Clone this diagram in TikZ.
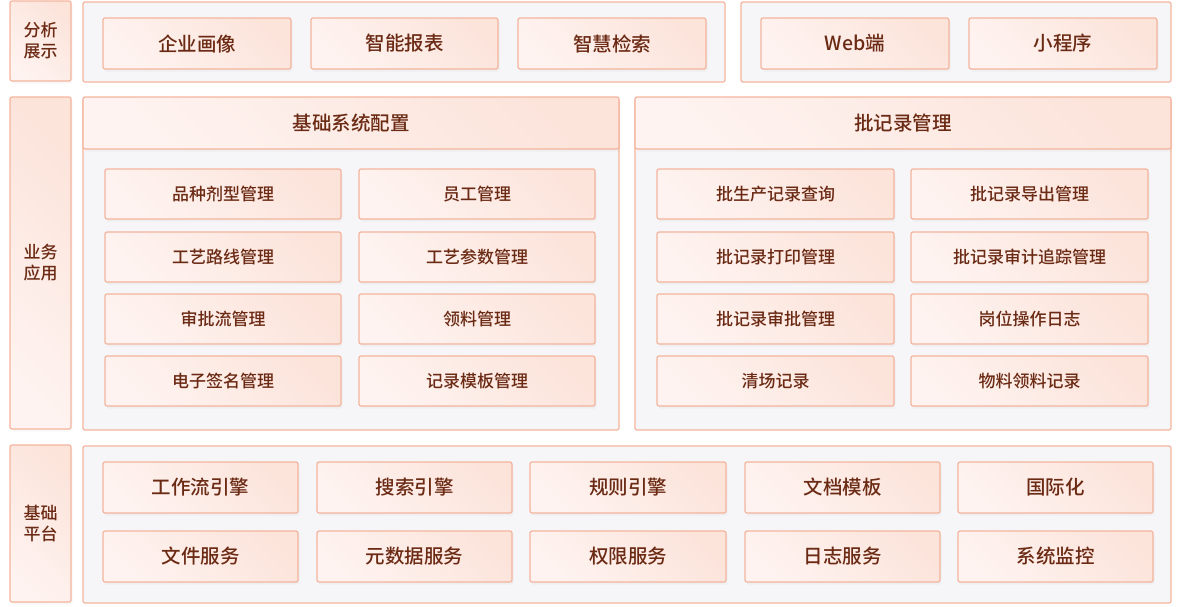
\documentclass[tikz,border=0pt]{standalone}
\usepackage{fontspec}
\setmainfont{Noto Sans CJK SC}[UprightFont={* Medium}]
\usetikzlibrary{shadows}
\definecolor{bord}{HTML}{F4B49C}
\definecolor{txt}{HTML}{6B2A14}
\definecolor{panel}{HTML}{F6F6F9}
\definecolor{fillA}{HTML}{FEF3F0}
\definecolor{fillB}{HTML}{FCE4DB}
\tikzset{
  box/.style={draw=bord, line width=1.2pt, rounded corners=2pt, inner sep=0pt,
    left color=fillA, right color=fillB, shading angle=135,
    drop shadow={opacity=0.06, shadow xshift=1.5pt, shadow yshift=-2.5pt},
    text=txt, align=center},
  tag/.style={box, font=\fontsize{17}{21}\selectfont},
  big/.style={box, font=\fontsize{19.5}{23}\selectfont},
  sml/.style={box, font=\fontsize{17}{20}\selectfont},
  cont/.style={draw=bord, line width=1.2pt, rounded corners=2pt, fill=panel},
  hdr/.style={box, font=\fontsize{19.5}{23}\selectfont, drop shadow={opacity=0}},
}
\newcommand{\bx}[6]{\node[#1, minimum width=#4-#2, minimum height=#5-#3] (#6) at ({(#2+#4)/2},{(#3+#5)/2-1})}
\begin{document}
\begin{tikzpicture}[x=1pt,y=-1pt]
\useasboundingbox (0,0) rectangle (1184,606);
% side labels
\bx{tag}{10}{2}{71}{82}{la} {分析\\展示};
\bx{tag}{10}{98}{71}{430}{lb} {业务\\应用};
\bx{tag}{10}{446}{71}{603}{lc} {基础\\平台};
% containers
\draw[cont] (83,2) rectangle (725,82);
\draw[cont] (741,2) rectangle (1171,82);
\draw[cont] (83,98) rectangle (619,430);
\draw[cont] (635,98) rectangle (1171,430);
\draw[cont] (83,446) rectangle (1171,603);
% headers
\bx{hdr}{83}{98}{619}{150}{ha} {基础系统配置};
\bx{hdr}{635}{98}{1171}{150}{hb} {批记录管理};
% analysis row
\bx{big}{103}{19}{291}{70}{a1} {企业画像};
\bx{big}{311}{19}{498}{70}{a2} {智能报表};
\bx{big}{518}{19}{706}{70}{a3} {智慧检索};
\bx{big}{761}{19}{949}{70}{a4} {Web端};
\bx{big}{969}{19}{1157}{70}{a5} {小程序};
% left panel
\bx{sml}{105}{170}{341}{220}{b1} {品种剂型管理};
\bx{sml}{359}{170}{595}{220}{b2} {员工管理};
\bx{sml}{105}{233}{341}{283}{b3} {工艺路线管理};
\bx{sml}{359}{233}{595}{283}{b4} {工艺参数管理};
\bx{sml}{105}{295}{341}{345}{b5} {审批流管理};
\bx{sml}{359}{295}{595}{345}{b6} {领料管理};
\bx{sml}{105}{357}{341}{407}{b7} {电子签名管理};
\bx{sml}{359}{357}{595}{407}{b8} {记录模板管理};
% right panel
\bx{sml}{657}{170}{894}{220}{c1} {批生产记录查询};
\bx{sml}{911}{170}{1148}{220}{c2} {批记录导出管理};
\bx{sml}{657}{233}{894}{283}{c3} {批记录打印管理};
\bx{sml}{911}{233}{1148}{283}{c4} {批记录审计追踪管理};
\bx{sml}{657}{295}{894}{345}{c5} {批记录审批管理};
\bx{sml}{911}{295}{1148}{345}{c6} {岗位操作日志};
\bx{sml}{657}{357}{894}{407}{c7} {清场记录};
\bx{sml}{911}{357}{1148}{407}{c8} {物料领料记录};
% base platform
\bx{big}{103}{463}{298}{514}{d1} {工作流引擎};
\bx{big}{317}{463}{512}{514}{d2} {搜索引擎};
\bx{big}{530}{463}{726}{514}{d3} {规则引擎};
\bx{big}{745}{463}{940}{514}{d4} {文档模板};
\bx{big}{958}{463}{1153}{514}{d5} {国际化};
\bx{big}{103}{532}{298}{583}{e1} {文件服务};
\bx{big}{317}{532}{512}{583}{e2} {元数据服务};
\bx{big}{530}{532}{726}{583}{e3} {权限服务};
\bx{big}{745}{532}{940}{583}{e4} {日志服务};
\bx{big}{958}{532}{1153}{583}{e5} {系统监控};
\end{tikzpicture}
\end{document}
